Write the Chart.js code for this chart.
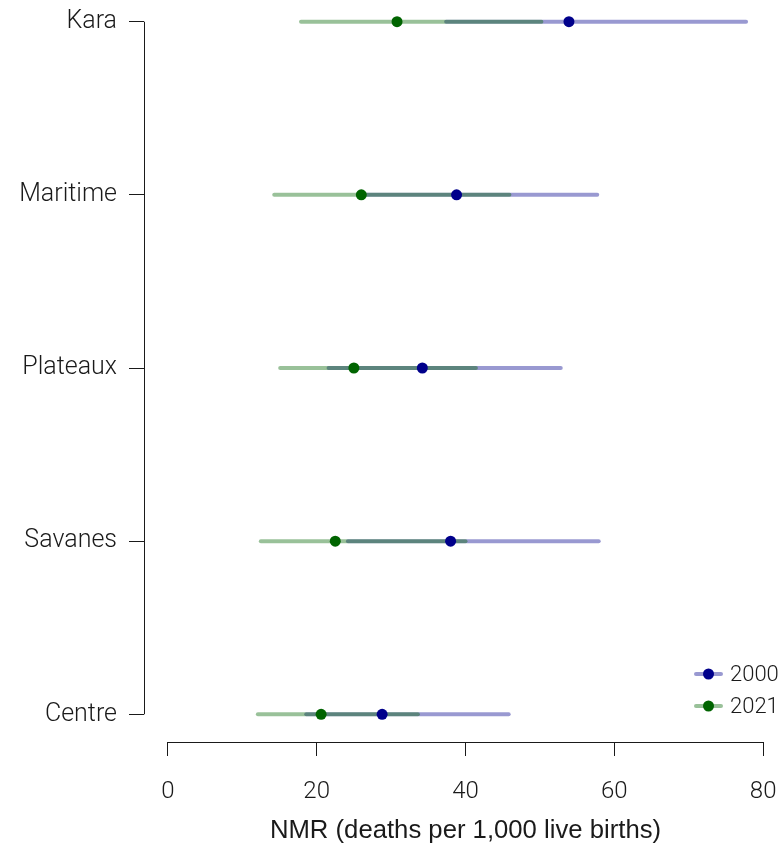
<!DOCTYPE html>
<html>
<head>
<meta charset="utf-8">
<script src="https://cdn.jsdelivr.net/npm/chart.js@4"></script>
<style>
  html, body { margin: 0; padding: 0; background: #fff; overflow: hidden; }
  #wrap { position: relative; width: 784px; height: 845px; overflow: hidden; }
  #nmrChart { position: absolute; left: 0; top: -6px; }
</style>
</head>
<body>
<div id="wrap"><canvas id="nmrChart" width="787" height="851"></canvas></div>
<script>
const regions = ["Kara", "Maritime", "Plateaux", "Savanes", "Centre"];
const years = ["2000", "2021"];

const est2000 = [53.9, 38.8, 34.2, 38.0, 28.8];
const low2000 = [37.4, 26.3, 21.6, 24.2, 18.6];
const high2000 = [77.7, 57.7, 52.8, 57.9, 45.8];

const est2021 = [30.8, 26.0, 25.0, 22.5, 20.6];
const low2021 = [17.9, 14.3, 15.1, 12.5, 12.1];
const high2021 = [50.2, 45.9, 41.4, 40.0, 33.6];

const xTicks = [0, 20, 40, 60, 80];
const xTitle = "NMR (deaths per 1,000 live births)";

const blue = "rgb(0,0,139)";
const blueLight = "rgba(0,0,139,0.4)";
const green = "rgb(0,100,0)";
const greenLight = "rgba(0,100,0,0.4)";
const textColor = "#1a1a1a";

// one line dataset per region per year (interval)
function intervalSets(low, high, color, order) {
  return regions.map((r, i) => ({
    type: "line",
    data: [{ x: low[i], y: i }, { x: high[i], y: i }],
    borderColor: color,
    borderWidth: 4,
    borderCapStyle: "round",
    pointRadius: 0,
    order: order,
  }));
}

function pointSet(est, color, order) {
  return {
    type: "scatter",
    data: est.map((v, i) => ({ x: v, y: i })),
    backgroundColor: color,
    borderColor: color,
    borderWidth: 0,
    pointRadius: 5.5,
    order: order,
  };
}

const datasets = [
  ...intervalSets(low2000, high2000, blueLight, 4),
  ...intervalSets(low2021, high2021, greenLight, 3),
  pointSet(est2000, blue, 2),
  pointSet(est2021, green, 1),
];

function noPad(s) {
  s.paddingLeft = 0;
  s.paddingRight = 0;
  s.paddingTop = 0;
  s.paddingBottom = 0;
}

// axis lines only over the tick range, like base R
const axisLines = {
  id: "axisLines",
  afterDraw(chart) {
    const { ctx, scales: { x, y }, chartArea } = chart;
    ctx.save();
    ctx.strokeStyle = textColor;
    ctx.lineWidth = 1;
    ctx.beginPath();
    const lx = Math.round(chartArea.left) + 0.5;
    ctx.moveTo(lx, y.getPixelForValue(0));
    ctx.lineTo(lx, y.getPixelForValue(regions.length - 1));
    const by = Math.round(chartArea.bottom) + 0.5;
    ctx.moveTo(x.getPixelForValue(xTicks[0]), by);
    ctx.lineTo(x.getPixelForValue(xTicks[xTicks.length - 1]), by);
    ctx.stroke();
    ctx.restore();
  },
};

const legendBox = {
  id: "legendBox",
  afterDraw(chart) {
    const { ctx } = chart;
    const cols = [[blue, blueLight], [green, greenLight]];
    ctx.save();
    years.forEach((yr, i) => {
      const cy = 680 + i * 32;
      ctx.strokeStyle = cols[i][1];
      ctx.lineWidth = 4;
      ctx.lineCap = "round";
      ctx.beginPath();
      ctx.moveTo(696, cy);
      ctx.lineTo(721, cy);
      ctx.stroke();
      ctx.fillStyle = cols[i][0];
      ctx.beginPath();
      ctx.arc(708.5, cy, 5.5, 0, Math.PI * 2);
      ctx.fill();
      ctx.fillStyle = textColor;
      ctx.font = "300 22px Roboto";
      ctx.textBaseline = "middle";
      ctx.textAlign = "left";
      ctx.fillText(yr, 730, cy + 1);
    });
    ctx.restore();
  },
};

new Chart(document.getElementById("nmrChart"), {
  data: { datasets: datasets },
  options: {
    responsive: false,
    animation: false,
    layout: { padding: 0, autoPadding: false },
    plugins: { legend: { display: false }, tooltip: { enabled: false } },
    scales: {
      x: {
        type: "linear",
        min: -3.2,
        max: 83.2,
        afterBuildTicks: (s) => { s.ticks = xTicks.map((v) => ({ value: v })); },
        afterFit: (s) => { s.height = 103; noPad(s); },
        grid: { drawOnChartArea: false, drawTicks: true, tickLength: 14, color: textColor },
        border: { display: false },
        ticks: {
          color: textColor,
          padding: 22,
          maxRotation: 0,
          font: { family: "Roboto", weight: 300, size: 24 },
        },
        title: {
          display: true,
          text: xTitle,
          color: textColor,
          font: { family: "Liberation Sans", size: 25.7, lineHeight: 1.1 },
          padding: { top: 0, bottom: 0 },
        },
      },
      y: {
        type: "linear",
        reverse: true,
        min: -0.16,
        max: regions.length - 1 + 0.16,
        afterBuildTicks: (s) => { s.ticks = regions.map((r, i) => ({ value: i })); },
        afterFit: (s) => { s.width = 144; noPad(s); },
        grid: { drawOnChartArea: false, drawTicks: true, tickLength: 15, color: textColor },
        border: { display: false },
        ticks: {
          color: textColor,
          padding: 12,
          font: { family: "Roboto", weight: 300, size: 25 },
          callback: (v) => regions[v],
        },
      },
    },
  },
  plugins: [axisLines, legendBox],
});
</script>
</body>
</html>
